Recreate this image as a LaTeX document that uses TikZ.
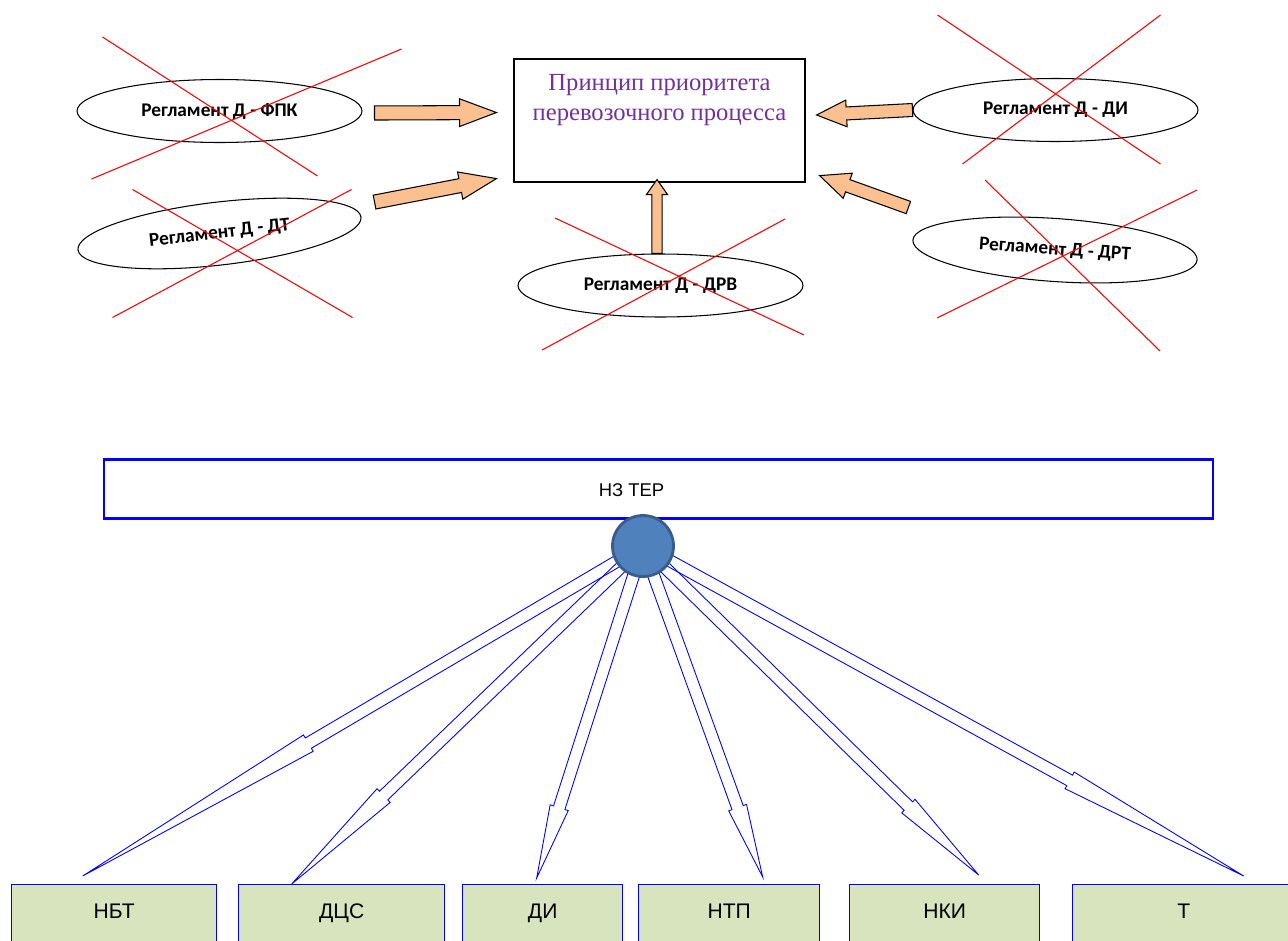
\documentclass[tikz,border=0pt]{standalone}
\usepackage{fontspec}
\usetikzlibrary{shapes.geometric,calc,backgrounds}
\newfontfamily\calibrifont{Carlito}
\newfontfamily\arialfont{Liberation Sans}
\newfontfamily\timesfont{Liberation Serif}
\definecolor{myarrowcolor}{HTML}{FAC090}
\definecolor{myboxcolor}{HTML}{D7E4BD}
\definecolor{myhubcolor}{HTML}{4F81BD}
\definecolor{myhubline}{HTML}{385D8A}
\definecolor{mytitlecolor}{HTML}{7030A0}
\newcommand{\blockarrow}[6]{%
  \path[#1] let \p1=(#2), \p2=(#3),
    \n1={atan2(\y2-\y1,\x2-\x1)}, \n2={veclen(\x2-\x1,\y2-\y1)} in
    ($(\p1)+(\n1-90:#4)$) -- ($(\p1)+(\n1:\n2-#6)+(\n1-90:#4)$) --
    ($(\p1)+(\n1:\n2-#6)+(\n1-90:#5)$) -- (\p2) --
    ($(\p1)+(\n1:\n2-#6)+(\n1+90:#5)$) -- ($(\p1)+(\n1:\n2-#6)+(\n1+90:#4)$) --
    ($(\p1)+(\n1+90:#4)$) -- cycle;%
}

\begin{document}
\begin{tikzpicture}[x=0.02cm, y=-0.02cm,
  regl/.style={draw, ellipse, line width=0.6pt, minimum width=5.7cm, minimum height=1.26cm, font=\calibrifont\bfseries\fontsize{11pt}{11pt}\selectfont},
  strike/.style={draw=red, line width=0.6pt},
  orangearrow/.style={draw=black, fill=myarrowcolor, line width=0.6pt},
  thinarrow/.style={draw=blue, line width=0.5pt},
  unitbox/.style={draw=blue, line width=0.8pt, fill=myboxcolor, rectangle, anchor=north west, inner xsep=0pt, inner ysep=0pt, text height=19pt, text depth=23pt, font=\arialfont\fontsize{12pt}{12pt}\selectfont},
  hub/.style={circle, draw=myhubline, fill=myhubcolor, line width=1.6pt, minimum size=1.22cm, inner sep=0pt}]%
\useasboundingbox (0,0) rectangle (1288,940);%
\clip (0,0) rectangle (1288,940);%
\node[draw, rectangle, line width=0.7pt, minimum width=5.82cm, minimum height=2.46cm] (prin) at (659.5,120.5) {};%
\node[anchor=north, align=center, inner sep=0pt, text=mytitlecolor, font=\timesfont\fontsize{14pt}{17pt}\selectfont] (prinlabel) at (659.5,74) {Принцип приоритета\\перевозочного процесса};%
\node[regl] (fpk) at (219.5,111) {Регламент Д - ФПК};%
\node[regl, rotate=6.6] (dt) at (219.5,233.5) {Регламент Д - ДТ};%
\node[regl] (drv) at (660.5,285.5) {Регламент Д - ДРВ};%
\node[regl] (regdi) at (1055.5,110) {Регламент Д - ДИ};%
\node[regl, rotate=-4] (drt) at (1055,250) {Регламент Д - ДРТ};%
\draw[strike] ($(fpk)+(-117,-74)$) -- ($(fpk)+(98,65)$);%
\draw[strike] ($(fpk)+(-128,68)$) -- ($(fpk)+(182,-62)$);%
\draw[strike] ($(dt)+(-87,-44)$) -- ($(dt)+(133,84)$);%
\draw[strike] ($(dt)+(-107,84)$) -- ($(dt)+(132,-44)$);%
\draw[strike] ($(drv)+(-105.5,-67.5)$) -- ($(drv)+(143.5,49.5)$);%
\draw[strike] ($(drv)+(-118.5,64.5)$) -- ($(drv)+(124.5,-66.5)$);%
\draw[strike] ($(regdi)+(-118,-95)$) -- ($(regdi)+(105,54)$);%
\draw[strike] ($(regdi)+(-93,54)$) -- ($(regdi)+(105,-95)$);%
\draw[strike] ($(drt)+(-70,-70)$) -- ($(drt)+(105,101)$);%
\draw[strike] ($(drt)+(-118,68)$) -- ($(drt)+(142,-60)$);%
\blockarrow{orangearrow}{$(fpk.east)+(12,2)$}{$(prin.west)+(-17,-8)$}{4pt}{7.9pt}{21pt}%
\blockarrow{orangearrow}{$(dt.east)+(13,-15)$}{$(prin.south west)+(-17,-4)$}{4pt}{7.9pt}{21pt}%
\blockarrow{orangearrow}{regdi.west}{$(prin.east)+(11,-5.5)$}{3.7pt}{7.6pt}{17pt}%
\blockarrow{orangearrow}{$(drt.west)+(-4,-32.5)$}{$(prin.south east)+(14,-7)$}{3.7pt}{7.6pt}{17pt}%
\blockarrow{orangearrow}{$(drv.north)+(-3.5,0)$}{$(prin.south)+(-2.5,-3)$}{2.9pt}{6pt}{8.5pt}%
\node[draw=blue, line width=1.5pt, fill=white, rectangle, minimum width=22.18cm, minimum height=1.19cm] (nzter) at (658.5,489) {};%
\node[font=\arialfont\fontsize{10.5pt}{10.5pt}\selectfont] (nzlabel) at (631.5,490) {НЗ ТЕР};%
\node[hub] (hub) at (643,546) {};%
\node[unitbox, minimum width=4.1cm] (nbt) at (11,884) {НБТ};%
\node[unitbox, minimum width=4.12cm] (dcs) at (238,884) {ДЦС};%
\node[unitbox, minimum width=3.2cm] (di) at (462,884) {ДИ};%
\node[unitbox, minimum width=3.62cm] (ntp) at (638,884) {НТП};%
\node[unitbox, minimum width=3.8cm] (nki) at (849,884) {НКИ};%
\node[unitbox, minimum width=4.44cm] (t) at (1072,884) {Т};%
\begin{pgfonlayer}{background}%
\blockarrow{thinarrow}{hub}{$(nbt.north)+(-31.5,-8)$}{3.4pt}{5.4pt}{149pt}%
\blockarrow{thinarrow}{hub}{$(dcs.north)+(-50,0)$}{3.4pt}{5.4pt}{72.6pt}%
\blockarrow{thinarrow}{hub}{$(di.north)+(-6,-6)$}{3.4pt}{5.4pt}{42pt}%
\blockarrow{thinarrow}{hub}{$(ntp.north)+(33.5,-7)$}{3.4pt}{5.4pt}{42pt}%
\blockarrow{thinarrow}{hub}{$(nki.north)+(34,-9)$}{3.4pt}{5.4pt}{56pt}%
\blockarrow{thinarrow}{hub}{$(t.north)+(60,-8)$}{3.4pt}{5.4pt}{113pt}%
\end{pgfonlayer}%
\end{tikzpicture}
\end{document}
